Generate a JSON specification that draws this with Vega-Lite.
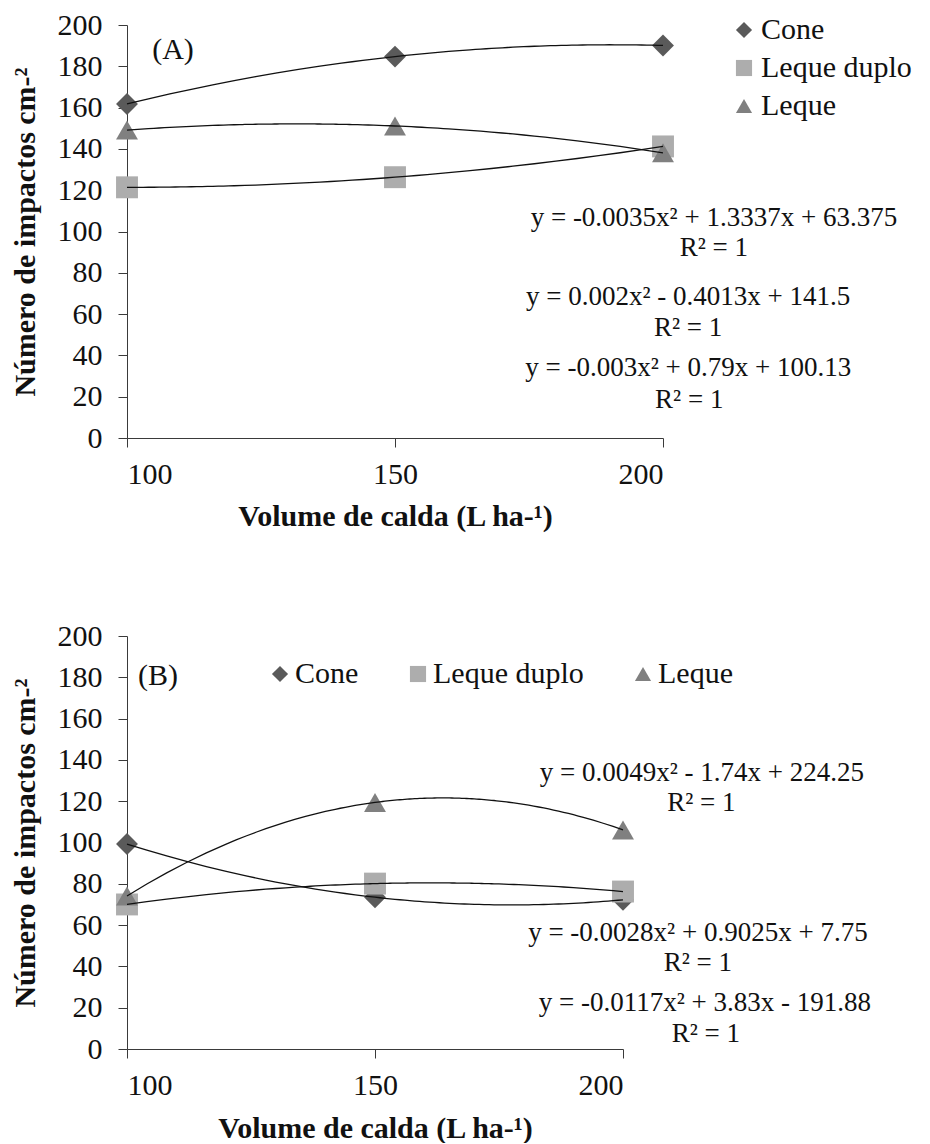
{
  "$schema": "https://vega.github.io/schema/vega-lite/v6.json",
  "padding": {"left": 10, "top": 10, "right": 5, "bottom": 0},
  "background": "white",
  "spacing": 90,
  "config": {
    "view": {"stroke": null},
    "font": "Liberation Serif",
    "axis": {
      "grid": false,
      "domainColor": "#3a3a3a",
      "tickColor": "#3a3a3a",
      "tickSize": 9,
      "labelFont": "Liberation Serif",
      "labelFontSize": 30,
      "labelColor": "#111111",
      "titleFont": "Liberation Serif",
      "titleFontSize": 30,
      "titleFontWeight": "bold",
      "titleColor": "#111111"
    },
    "legend": {
      "labelFont": "Liberation Serif",
      "labelFontSize": 30,
      "labelColor": "#111111",
      "padding": 0,
      "symbolStrokeWidth": 0,
      "symbolSize": 260
    }
  },
  "datasets": {
    "A": [
      {"volume": 100, "impactos": 161.75, "bico": "Cone"},
      {"volume": 150, "impactos": 184.7, "bico": "Cone"},
      {"volume": 200, "impactos": 190.1, "bico": "Cone"},
      {"volume": 100, "impactos": 121.4, "bico": "Leque duplo"},
      {"volume": 150, "impactos": 126.3, "bico": "Leque duplo"},
      {"volume": 200, "impactos": 141.2, "bico": "Leque duplo"},
      {"volume": 100, "impactos": 149.1, "bico": "Leque"},
      {"volume": 150, "impactos": 151.1, "bico": "Leque"},
      {"volume": 200, "impactos": 138.1, "bico": "Leque"}
    ],
    "B": [
      {"volume": 100, "impactos": 99.25, "bico": "Cone"},
      {"volume": 150, "impactos": 73.5, "bico": "Cone"},
      {"volume": 200, "impactos": 72.25, "bico": "Cone"},
      {"volume": 100, "impactos": 70.0, "bico": "Leque duplo"},
      {"volume": 150, "impactos": 80.1, "bico": "Leque duplo"},
      {"volume": 200, "impactos": 76.25, "bico": "Leque duplo"},
      {"volume": 100, "impactos": 74.1, "bico": "Leque"},
      {"volume": 150, "impactos": 119.4, "bico": "Leque"},
      {"volume": 200, "impactos": 106.1, "bico": "Leque"}
    ],
    "notesA": [
      {"vx": 209.5, "vy": 106.5, "label": "y = -0.0035x² + 1.3337x + 63.375"},
      {"vx": 209.5, "vy": 92.0, "label": "R² = 1"},
      {"vx": 204.7, "vy": 68.3, "label": "y = 0.002x² - 0.4013x + 141.5"},
      {"vx": 204.7, "vy": 53.3, "label": "R² = 1"},
      {"vx": 204.7, "vy": 33.9, "label": "y = -0.003x² + 0.79x + 100.13"},
      {"vx": 204.9, "vy": 18.4, "label": "R² = 1"}
    ],
    "notesB": [
      {"vx": 215.9, "vy": 133.7, "label": "y = 0.0049x² - 1.74x + 224.25"},
      {"vx": 215.8, "vy": 119.1, "label": "R² = 1"},
      {"vx": 215.1, "vy": 56.2, "label": "y = -0.0028x² + 0.9025x + 7.75"},
      {"vx": 215.1, "vy": 41.6, "label": "R² = 1"},
      {"vx": 216.5, "vy": 22.3, "label": "y = -0.0117x² + 3.83x - 191.88"},
      {"vx": 216.7, "vy": 7.3, "label": "R² = 1"}
    ],
    "tagA": [{"vx": 104.7, "vy": 187.9, "label": "(A)"}],
    "tagB": [{"vx": 102.2, "vy": 180.6, "label": "(B)"}]
  },
  "resolve": {"scale": {"color": "independent", "shape": "independent", "x": "independent", "y": "independent"}, "legend": {"color": "independent", "shape": "independent"}},
  "vconcat": [
    {
      "width": 536,
      "height": 413,
      "layer": [
        {
          "data": {"name": "A"},
          "mark": {"type": "point", "filled": true, "opacity": 1, "size": 480},
          "encoding": {
            "x": {"field": "volume", "type": "quantitative", "scale": {"domain": [100, 200], "nice": false, "zero": false},
                  "axis": {"values": [100, 150, 200], "title": "Volume de calda (L ha-¹)", "labelPadding": 12, "titlePadding": 12}},
            "y": {"field": "impactos", "type": "quantitative", "scale": {"domain": [0, 200], "nice": false},
                  "axis": {"values": [0, 20, 40, 60, 80, 100, 120, 140, 160, 180, 200], "title": "Número de impactos cm-²", "labelPadding": 16, "titlePadding": 17}},
            "color": {"field": "bico", "type": "nominal", "scale": {"domain": ["Cone", "Leque duplo", "Leque"], "range": ["#5a5a5a", "#adadad", "#808080"]},
                      "legend": {"title": null, "orient": "none", "legendX": 602, "legendY": -10, "direction": "vertical", "rowPadding": 8, "labelOffset": 2}},
            "shape": {"field": "bico", "type": "nominal", "scale": {"domain": ["Cone", "Leque duplo", "Leque"], "range": ["diamond", "square", "triangle-up"]},
                      "legend": {"title": null, "orient": "none", "legendX": 602, "legendY": -10, "direction": "vertical", "rowPadding": 8, "labelOffset": 2}}
          }
        },
        {
          "data": {"name": "A"},
          "transform": [{"regression": "impactos", "on": "volume", "groupby": ["bico"], "method": "poly", "order": 2, "extent": [100, 200]}],
          "mark": {"type": "line", "color": "#111111", "strokeWidth": 1.3},
          "encoding": {
            "x": {"field": "volume", "type": "quantitative"},
            "y": {"field": "impactos", "type": "quantitative"},
            "detail": {"field": "bico"}
          }
        },
        {
          "data": {"name": "notesA"},
          "mark": {"type": "text", "align": "center", "baseline": "middle", "fontSize": 27, "font": "Liberation Serif", "color": "#111111"},
          "encoding": {
            "x": {"field": "vx", "type": "quantitative"},
            "y": {"field": "vy", "type": "quantitative"},
            "text": {"field": "label"}
          }
        },
        {
          "data": {"name": "tagA"},
          "mark": {"type": "text", "align": "left", "baseline": "middle", "fontSize": 30, "font": "Liberation Serif", "color": "#111111"},
          "encoding": {
            "x": {"field": "vx", "type": "quantitative"},
            "y": {"field": "vy", "type": "quantitative"},
            "text": {"field": "label"}
          }
        }
      ]
    },
    {
      "width": 496,
      "height": 413,
      "layer": [
        {
          "data": {"name": "B"},
          "mark": {"type": "point", "filled": true, "opacity": 1, "size": 480},
          "encoding": {
            "x": {"field": "volume", "type": "quantitative", "scale": {"domain": [100, 200], "nice": false, "zero": false},
                  "axis": {"values": [100, 150, 200], "title": "Volume de calda (L ha-¹)", "labelPadding": 12, "titlePadding": 13}},
            "y": {"field": "impactos", "type": "quantitative", "scale": {"domain": [0, 200], "nice": false},
                  "axis": {"values": [0, 20, 40, 60, 80, 100, 120, 140, 160, 180, 200], "title": "Número de impactos cm-²", "labelPadding": 16, "titlePadding": 17}},
            "color": {"field": "bico", "type": "nominal", "scale": {"domain": ["Cone", "Leque duplo", "Leque"], "range": ["#5a5a5a", "#adadad", "#808080"]},
                      "legend": {"title": null, "orient": "none", "legendX": 138, "legendY": 23, "direction": "horizontal", "columnPadding": 44, "labelOffset": 0}},
            "shape": {"field": "bico", "type": "nominal", "scale": {"domain": ["Cone", "Leque duplo", "Leque"], "range": ["diamond", "square", "triangle-up"]},
                      "legend": {"title": null, "orient": "none", "legendX": 138, "legendY": 23, "direction": "horizontal", "columnPadding": 44, "labelOffset": 0}}
          }
        },
        {
          "data": {"name": "B"},
          "transform": [{"regression": "impactos", "on": "volume", "groupby": ["bico"], "method": "poly", "order": 2, "extent": [100, 200]}],
          "mark": {"type": "line", "color": "#111111", "strokeWidth": 1.3},
          "encoding": {
            "x": {"field": "volume", "type": "quantitative"},
            "y": {"field": "impactos", "type": "quantitative"},
            "detail": {"field": "bico"}
          }
        },
        {
          "data": {"name": "notesB"},
          "mark": {"type": "text", "align": "center", "baseline": "middle", "fontSize": 27, "font": "Liberation Serif", "color": "#111111"},
          "encoding": {
            "x": {"field": "vx", "type": "quantitative"},
            "y": {"field": "vy", "type": "quantitative"},
            "text": {"field": "label"}
          }
        },
        {
          "data": {"name": "tagB"},
          "mark": {"type": "text", "align": "left", "baseline": "middle", "fontSize": 30, "font": "Liberation Serif", "color": "#111111"},
          "encoding": {
            "x": {"field": "vx", "type": "quantitative"},
            "y": {"field": "vy", "type": "quantitative"},
            "text": {"field": "label"}
          }
        }
      ]
    }
  ]
}
